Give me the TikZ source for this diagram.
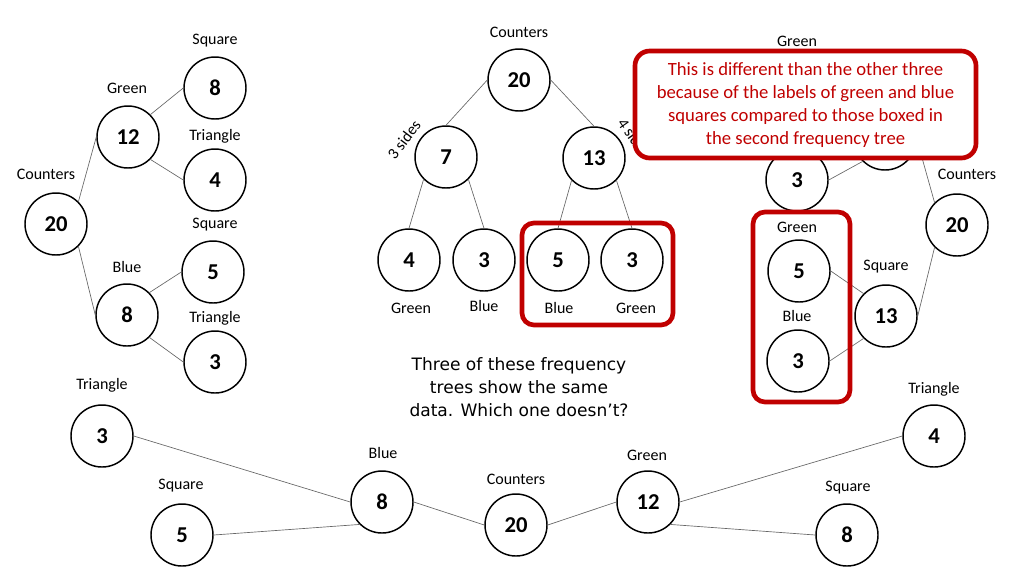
\documentclass[tikz,border=0pt]{standalone}
\usepackage{fontspec}
\newfontfamily\carlito{Carlito}
\newfontfamily\dejavu{DejaVu Sans}
\definecolor{dred}{RGB}{192,0,0}
\tikzset{
 nd/.style={circle, draw=black, line width=1.1pt, fill=white, minimum size=46.5pt, inner sep=0pt, font=\carlito\bfseries\fontsize{17}{17}\selectfont},
 ed/.style={draw=black!60, line width=0.5pt},
 lb/.style={inner sep=0pt, font=\carlito\fontsize{12}{12}\selectfont},
 redbox/.style={draw=dred, line width=3.5pt, rounded corners=9pt},
}
\begin{document}
\begin{tikzpicture}[x=0.75pt,y=-0.75pt]
\useasboundingbox (0,0) rectangle (1024,576);
% ---------- left tree ----------
\node[nd] (L20) at (56,224) {20};
\node[nd] (L12) at (128,137) {12};
\node[nd] (L8)  at (127,315) {8};
\node[nd] (L8s) at (215,88) {8};
\node[nd] (L4)  at (215,180) {4};
\node[nd] (L5)  at (213,272) {5};
\node[nd] (L3)  at (215,362) {3};
\node[lb] (lL20) at (46,174) {Counters};
\node[lb] (lL12) at (127,88) {Green};
\node[lb] (lL8)  at (127,267) {Blue};
\node[lb] (lL8s) at (215,41) {Square};
\node[lb] (lL4)  at (215,136) {Triangle};
\node[lb] (lL5)  at (215,225) {Square};
\node[lb] (lL3)  at (215,318) {Triangle};
\draw[ed] (L20.north east) -- (L12.west);
\draw[ed] (L20.south east) -- (L8.west);
\draw[ed] (L12.north east) -- (L8s.west);
\draw[ed] (L12.south east) -- (L4.west);
\draw[ed] (L8.north east) -- (L5.west);
\draw[ed] (L8.south east) -- (L3.west);
% ---------- middle tree ----------
\node[nd] (M20) at (519,80) {20};
\node[nd] (M7)  at (446,157) {7};
\node[nd] (M13) at (594,158) {13};
\node[nd] (M4)  at (409,260) {4};
\node[nd] (M3a) at (484,260) {3};
\node[nd] (M5)  at (558,260) {5};
\node[nd] (M3b) at (632,260) {3};
\node[lb] (lM20) at (519,32) {Counters};
\node[lb, rotate=53] (lM7) at (404,140) {3 sides};
\node[lb, rotate=-55] (lM13) at (634,138) {4 sides};
\node[lb] (lM4)  at (411,308) {Green};
\node[lb] (lM3a) at (484,306) {Blue};
\node[lb] (lM5)  at (559,308) {Blue};
\node[lb] (lM3b) at (636,308) {Green};
\draw[ed] (M20.west) -- (M7.north);
\draw[ed] (M20.east) -- (M13.north);
\draw[ed] (M7.south west) -- (M4.north);
\draw[ed] (M7.south east) -- (M3a.north);
\draw[ed] (M13.south west) -- (M5.north);
\draw[ed] (M13.south east) -- (M3b.north);
\draw[redbox] (522,223) rectangle (673,325);
% ---------- right tree ----------
\node[nd] (R20) at (957,225) {20};
\node[nd] (R7)  at (885,139) {};
\node[nd] (R3t) at (797,180) {3};
\node[nd] (R13) at (886,316) {13};
\node[nd] (R5)  at (799,271) {5};
\node[nd] (R3)  at (798,361) {3};
\node[lb] (lR20) at (967,174) {Counters};
\node[lb] (lRg) at (797,41) {Green};
\node[lb] (lR13) at (886,267) {Square};
\node[lb] (lR5)  at (797,227) {Green};
\node[lb] (lR3)  at (797,316) {Blue};
\draw[ed] (R20.north west) -- (R7.east);
\draw[ed] (R20.south west) -- (R13.east);
\draw[ed] (R7.south west) -- (R3t.east);
\draw[ed] (R13.north west) -- (R5.east);
\draw[ed] (R13.south west) -- (R3.east);
\draw[redbox] (753,212) rectangle (850,402);
% ---------- bottom tree ----------
\node[nd] (B3)  at (102,436) {3};
\node[nd] (B5)  at (182,535) {5};
\node[nd] (B8)  at (382,502) {8};
\node[nd] (B20) at (516,525) {20};
\node[nd] (B12) at (648,502) {12};
\node[nd] (B4)  at (934,436) {4};
\node[nd] (B8r) at (847,535) {8};
\node[lb] (lB3)  at (102,385) {Triangle};
\node[lb] (lB5)  at (181,486) {Square};
\node[lb] (lB8)  at (383,453) {Blue};
\node[lb] (lB20) at (516,479) {Counters};
\node[lb] (lB12) at (647,455) {Green};
\node[lb] (lB4)  at (934,389) {Triangle};
\node[lb] (lB8r) at (848,488) {Square};
\draw[ed] (B3.east) -- (B8.west);
\draw[ed] (B5.east) -- (B8.south west);
\draw[ed] (B8.east) -- (B20.west);
\draw[ed] (B20.east) -- (B12.west);
\draw[ed] (B12.east) -- (B4.west);
\draw[ed] (B12.south east) -- (B8r.west);
% ---------- question ----------
\node[align=center, inner sep=0pt, font=\dejavu\fontsize{12.8}{17.25}\selectfont] (q) at (519,387)
 {Three of these frequency\\trees show the same\\data. Which one doesn’t?};
% ---------- callout ----------
\draw[draw=dred, fill=white, line width=3.5pt, rounded corners=11pt] (635,51) rectangle (976,158);
\node[align=center, inner sep=0pt, text=dred, font=\carlito\fontsize{14}{17.25}\selectfont] (call) at (805.5,105)
 {This is different than the other three\\because of the labels of green and blue\\squares compared to those boxed in\\the second frequency tree};
\end{tikzpicture}
\end{document}
